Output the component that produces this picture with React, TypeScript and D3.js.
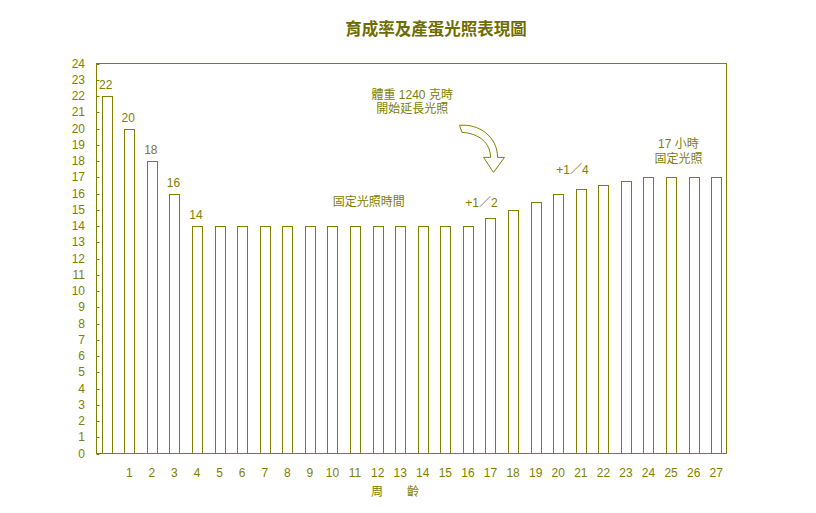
import React, { useRef, useEffect } from 'react';
import * as d3 from 'd3';

// weeks of age (0 has no tick label)
const weeks = ['0', '1', '2', '3', '4', '5', '6', '7', '8', '9', '10', '11', '12', '13', '14', '15', '16', '17', '18', '19', '20', '21', '22', '23', '24', '25', '26', '27'];
const weekLabels = ['', '1', '2', '3', '4', '5', '6', '7', '8', '9', '10', '11', '12', '13', '14', '15', '16', '17', '18', '19', '20', '21', '22', '23', '24', '25', '26', '27'];
// light hours per week
const lightHours = [22, 20, 18, 16, 14, 14, 14, 14, 14, 14, 14, 14, 14, 14, 14, 14, 14, 14.5, 15, 15.5, 16, 16.25, 16.5, 16.75, 17, 17, 17, 17];
const valueLabels = ['22', '20', '18', '16', '14'];
const yTicks = [0, 1, 2, 3, 4, 5, 6, 7, 8, 9, 10, 11, 12, 13, 14, 15, 16, 17, 18, 19, 20, 21, 22, 23, 24];

const OLIVE = '#808000';
const FONT = '"Liberation Sans", "Noto Sans CJK TC", sans-serif';

const App: React.FC = () => {
  const ref = useRef<SVGSVGElement | null>(null);

  useEffect(() => {
    if (!ref.current) return;
    const svg = d3.select(ref.current);
    svg.selectAll('*').remove();

    const left = 96.5;
    const right = 726.5;
    const top = 63.5;
    const bottom = 453.5;

    const x = d3
      .scaleBand<string>()
      .domain(weeks)
      .range([96, 727])
      .paddingInner(0.55)
      .paddingOuter(0.25);
    const y = d3.scaleLinear().domain([0, 24]).range([bottom, top]);
    const cx = (i: number) => (x(weeks[i]) as number) + x.bandwidth() / 2;

    // title
    svg
      .append('text')
      .attr('x', 436)
      .attr('y', 35)
      .attr('text-anchor', 'middle')
      .attr('font-family', FONT)
      .attr('font-size', 16.5)
      .attr('font-weight', 'bold')
      .attr('fill', '#6e6e00')
      .text('育成率及產蛋光照表現圖');

    // bars
    svg
      .append('g')
      .selectAll('rect')
      .data(lightHours)
      .join('rect')
      .attr('x', (_, i) => Math.round(x(weeks[i]) as number) + 0.5)
      .attr('y', (d) => Math.round(y(d)) + 0.5)
      .attr('width', Math.round(x.bandwidth()))
      .attr('height', (d) => bottom - Math.round(y(d)) - 0.5)
      .attr('fill', '#fff')
      .attr('stroke', OLIVE)
      .attr('stroke-width', 1);

    // frame
    svg
      .append('rect')
      .attr('x', left)
      .attr('y', top)
      .attr('width', right - left)
      .attr('height', bottom - top)
      .attr('fill', 'none')
      .attr('stroke', OLIVE);

    // y axis ticks (inside) + labels
    const yg = svg.append('g');
    yg.selectAll('line')
      .data(yTicks)
      .join('line')
      .attr('x1', left)
      .attr('x2', left + 3)
      .attr('y1', (d) => Math.round(y(d)) + 0.5)
      .attr('y2', (d) => Math.round(y(d)) + 0.5)
      .attr('stroke', OLIVE);
    yg.selectAll('text')
      .data(yTicks)
      .join('text')
      .attr('x', 85)
      .attr('y', (d) => y(d))
      .attr('dy', '0.35em')
      .attr('text-anchor', 'end')
      .attr('font-family', FONT)
      .attr('font-size', 12)
      .attr('fill', OLIVE)
      .text((d) => String(d));

    // x labels
    svg
      .append('g')
      .selectAll('text')
      .data(weekLabels)
      .join('text')
      .attr('x', (_, i) => cx(i))
      .attr('y', 477)
      .attr('text-anchor', 'middle')
      .attr('font-family', FONT)
      .attr('font-size', 12)
      .attr('fill', OLIVE)
      .text((d) => d);

    // x title
    const xt = svg
      .append('g')
      .attr('font-family', FONT)
      .attr('font-size', 12)
      .attr('fill', OLIVE)
      .attr('text-anchor', 'middle');
    xt.append('text').attr('x', 377).attr('y', 496).text('周');
    xt.append('text').attr('x', 413).attr('y', 496).text('齡');

    // value labels on the first bars
    svg
      .append('g')
      .selectAll('text')
      .data(valueLabels)
      .join('text')
      .attr('x', (_, i) => cx(i) - 1)
      .attr('y', (_, i) => y(lightHours[i]) - 7)
      .attr('text-anchor', 'middle')
      .attr('font-family', FONT)
      .attr('font-size', 12)
      .attr('fill', OLIVE)
      .text((d) => d);

    // annotations
    const ann = svg
      .append('g')
      .attr('font-family', FONT)
      .attr('font-size', 12)
      .attr('fill', OLIVE)
      .attr('text-anchor', 'middle');
    const note = (tx: number, ty: number, s: string) =>
      ann.append('text').attr('x', tx).attr('y', ty).text(s);
    note((cx(10) + cx(11)) / 2 + 25, y(15.25), '固定光照時間');
    note(cx(17) - 9, y(15.15), '+1／2');
    note((cx(20) + cx(21)) / 2 + 3, y(17.2), '+1／4');
    note((cx(25) + cx(26)) / 2 - 4, y(18.8), '17 小時');
    note((cx(25) + cx(26)) / 2 - 4, y(17.85), '固定光照');
    note(cx(13) + 12, y(21.8), '體重 1240 克時');
    note(cx(13) + 12, y(20.95), '開始延長光照');

    // curved arrow pointing at week 17
    const ax = cx(17) + 3;
    const ay = y(17.3);
    svg
      .append('path')
      .attr('transform', `translate(${ax},${ay})`)
      .attr(
        'd',
        'M-34,-47 C-15,-49 4,-36 4,-15 L11,-15 L0,0 L-10,-15 L-3,-15 C-3,-29 -14,-39 -31.5,-40 Z'
      )
      .attr('fill', '#fff')
      .attr('stroke', OLIVE)
      .attr('stroke-width', 1);
  }, []);

  return (
    <svg
      ref={ref}
      width={816}
      height={513}
      style={{ position: 'absolute', left: 0, top: 0, background: '#fff' }}
    />
  );
};

export default App;
